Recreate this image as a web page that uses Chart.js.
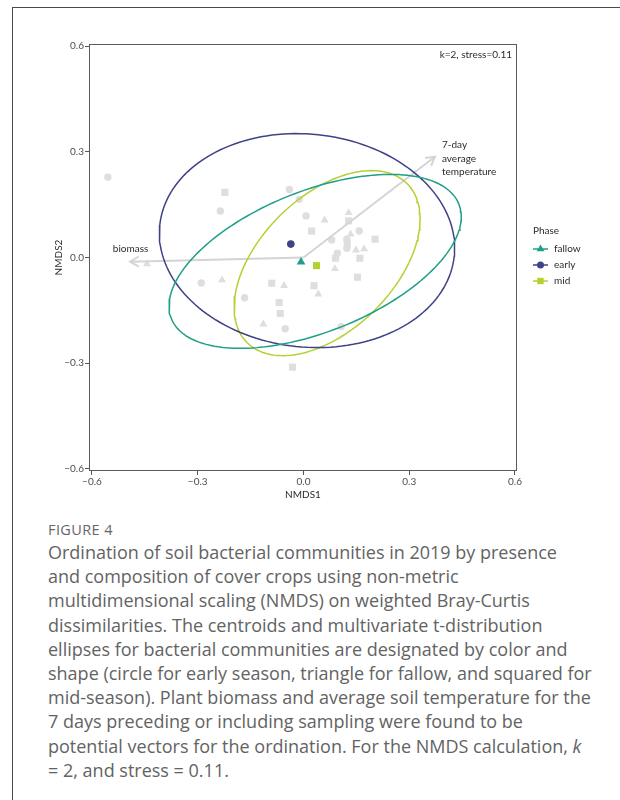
<!DOCTYPE html>
<html lang="en">
<head>
<meta charset="UTF-8">
<title>Figure 4 - NMDS ordination</title>
<script src="https://cdn.jsdelivr.net/npm/chart.js"></script>
<style>
  body { margin: 0; background: #fff; width: 620px; height: 800px; position: relative; overflow: hidden; font-family: 'Open Sans', sans-serif; }
  .card { position: absolute; left: 12px; top: 7px; width: 640px; height: 820px; border-top: 1px solid #4a4a4a; border-left: 1px solid #4a4a4a; }
  #plot { position: absolute; left: 0; top: 0; }
  .fig-label { position: absolute; left: 48px; top: 521px; font-size: 14.5px; line-height: 18px; color: #666; letter-spacing: 0.4px; }
  .caption { position: absolute; left: 48px; top: 540px; font-size: 18px; line-height: 24.2px; color: #636363; white-space: nowrap; }
</style>
</head>
<body>
<div class="card"></div>
<canvas id="plot" width="620" height="505"></canvas>
<div class="fig-label">FIGURE 4</div>
<div class="caption">
Ordination of soil bacterial communities in 2019 by presence<br>
and composition of cover crops using non-metric<br>
multidimensional scaling (NMDS) on weighted Bray-Curtis<br>
dissimilarities. The centroids and multivariate t-distribution<br>
ellipses for bacterial communities are designated by color and<br>
shape (circle for early season, triangle for fallow, and squared for<br>
mid-season). Plant biomass and average soil temperature for the<br>
7 days preceding or including sampling were found to be<br>
potential vectors for the ordination. For the NMDS calculation, <i>k</i><br>
= 2, and stress = 0.11.
</div>

<script>
// axis ticks
const tickValues = [-0.6, -0.3, 0.0, 0.3, 0.6];

// samples (grey), by shape
const circleX = [-0.555, -0.236, -0.290, -0.167, -0.052, -0.040, -0.012, 0.007, 0.080, 0.123, 0.158, 0.123, 0.096, 0.107];
const circleY = [0.228, 0.132, -0.072, -0.114, -0.202, 0.193, 0.165, 0.118, 0.050, 0.052, 0.075, 0.026, 0.012, -0.196];
const triangleX = [-0.444, -0.231, -0.055, -0.114, 0.060, 0.128, 0.134, 0.149, 0.172, 0.089, 0.042];
const triangleY = [-0.018, -0.064, -0.080, -0.189, 0.106, 0.127, 0.066, 0.021, 0.024, -0.032, -0.104];
const squareX = [-0.223, -0.090, -0.069, -0.066, 0.023, 0.128, 0.203, 0.091, 0.160, 0.153, 0.030, -0.031, 0.124];
const squareY = [0.185, -0.073, -0.128, -0.159, 0.075, 0.104, 0.052, -0.002, -0.002, -0.056, -0.080, -0.311, 0.040];

// phases: centroids and t-ellipses
const phases = ['fallow', 'early', 'mid'];
const phaseColors = ['#1f9e89', '#3f4189', '#b3d12f'];
const phaseShapes = ['triangle', 'circle', 'rect'];
const centroidX = [-0.007, -0.036, 0.037];
const centroidY = [-0.013, 0.038, -0.023];
const ellipseCX = [0.033, 0.010, 0.067];
const ellipseCY = [-0.011, 0.048, -0.016];
const ellipseA = [0.439, 0.420, 0.320];
const ellipseB = [0.200, 0.302, 0.190];
const ellipseAngle = [21.7, -6, 44.7];

// fitted vectors
const vectorNames = [['biomass'], ['7-day', 'average', 'temperature']];
const vectorX = [-0.492, 0.373];
const vectorY = [-0.012, 0.286];

const grey = '#dedede';

function fmt(v) {
    if (Math.abs(v) < 1e-9) return '0.0';
    return (v < 0 ? '\u2212' : '') + Math.abs(v).toFixed(1);
}

function ellipsePoints(i) {
    let pts = [];
    let t = ellipseAngle[i] * Math.PI / 180;
    for (let k = 0; k <= 160; k++) {
        let u = k / 160 * 2 * Math.PI;
        let ex = ellipseA[i] * Math.cos(u), ey = ellipseB[i] * Math.sin(u);
        pts.push({ x: ellipseCX[i] + ex * Math.cos(t) - ey * Math.sin(t),
                   y: ellipseCY[i] + ex * Math.sin(t) + ey * Math.cos(t) });
    }
    return pts;
}

function zip(xs, ys) { return xs.map((x, i) => ({ x: x, y: ys[i] })); }

let datasets = [];
// centroids on top
phases.forEach((p, i) => {
    datasets.push({ label: p, data: [{ x: centroidX[i], y: centroidY[i] }], pointStyle: phaseShapes[i],
        pointRadius: phaseShapes[i] === 'rect' ? 5 : (phaseShapes[i] === 'triangle' ? 5 : 3.8),
        backgroundColor: phaseColors[i], borderColor: phaseColors[i], borderWidth: 0, order: 0 });
});
phases.forEach((p, i) => {
    datasets.push({ label: p + ' ellipse', data: ellipsePoints(i), showLine: true, pointRadius: 0,
        borderColor: phaseColors[i], borderWidth: 1.5, fill: false, order: 1 });
});
vectorNames.forEach((n, i) => {
    datasets.push({ label: n.join(' '), data: [{ x: 0, y: 0 }, { x: vectorX[i], y: vectorY[i] }], showLine: true,
        pointRadius: 0, borderColor: '#d4d4d4', borderWidth: 2, order: 2, vector: i });
});
datasets.push({ label: 'circle', data: zip(circleX, circleY), pointStyle: 'circle', pointRadius: 3.7, backgroundColor: grey, borderWidth: 0, order: 3 });
datasets.push({ label: 'triangle', data: zip(triangleX, triangleY), pointStyle: 'triangle', pointRadius: 4.6, backgroundColor: grey, borderWidth: 0, order: 3 });
datasets.push({ label: 'square', data: zip(squareX, squareY), pointStyle: 'rect', pointRadius: 5, backgroundColor: grey, borderWidth: 0, order: 3 });

const txt = '#2b2b2b';
const font10 = "10px Lato, sans-serif";

const decor = {
    id: 'decor',
    beforeDatasetsDraw(chart) {
        const { ctx, chartArea: a } = chart;
        ctx.save();
        ctx.strokeStyle = '#5a5a5a';
        ctx.lineWidth = 1;
        ctx.strokeRect(a.left + 0.5, a.top + 0.5, a.right - a.left - 1, a.bottom - a.top - 1);
        ctx.restore();
    },
    afterDatasetDraw(chart, args) {
        let ds = chart.data.datasets[args.index];
        if (ds.vector === undefined) return;
        const ctx = chart.ctx;
        const pts = args.meta.data;
        const x0 = pts[0].x, y0 = pts[0].y, x1 = pts[1].x, y1 = pts[1].y;
        const ang = Math.atan2(y1 - y0, x1 - x0);
        const len = 10, spread = Math.PI / 6;
        ctx.save();
        ctx.strokeStyle = ds.borderColor;
        ctx.lineWidth = 2;
        ctx.beginPath();
        ctx.moveTo(x1 - len * Math.cos(ang - spread), y1 - len * Math.sin(ang - spread));
        ctx.lineTo(x1, y1);
        ctx.lineTo(x1 - len * Math.cos(ang + spread), y1 - len * Math.sin(ang + spread));
        ctx.stroke();
        // vector label
        ctx.fillStyle = txt;
        ctx.font = font10;
        ctx.textBaseline = 'middle';
        const lines = vectorNames[ds.vector];
        if (ds.vector === 0) {
            ctx.textAlign = 'center';
            ctx.fillText(lines[0], x1 + 0.5, y1 - 12.5);
        } else {
            ctx.textAlign = 'left';
            lines.forEach((l, k) => ctx.fillText(l, x1 + 7, y1 - 12 + k * 13.6));
        }
        ctx.restore();
    },
    afterDraw(chart) {
        const { ctx, chartArea: a } = chart;
        ctx.save();
        ctx.fillStyle = txt;
        ctx.font = font10;
        ctx.textBaseline = 'middle';
        // stress annotation
        ctx.textAlign = 'right';
        ctx.fillText('k=2, stress=0.11', a.right - 5, 55);
        // axis titles
        ctx.textAlign = 'center';
        ctx.fillText('NMDS1', (a.left + a.right) / 2, 495);
        ctx.save();
        ctx.translate(59, (a.top + a.bottom) / 2);
        ctx.rotate(-Math.PI / 2);
        ctx.fillText('NMDS2', 0, 0);
        ctx.restore();
        // legend
        ctx.textAlign = 'left';
        ctx.fillText('Phase', 533, 231);
        phases.forEach((p, i) => {
            const y = 249 + i * 16;
            ctx.strokeStyle = phaseColors[i];
            ctx.lineWidth = 1.5;
            ctx.beginPath();
            ctx.moveTo(533, y);
            ctx.lineTo(548, y);
            ctx.stroke();
            ctx.fillStyle = phaseColors[i];
            Chart.helpers.drawPoint(ctx, { pointStyle: phaseShapes[i], radius: phaseShapes[i] === 'circle' ? 3.5 : 4.5, borderWidth: 0 }, 540.5, y);
            ctx.fillStyle = txt;
            ctx.fillText(p, 554, y);
        });
        ctx.restore();
    }
};

function scaleOpts(isX) {
    return {
        type: 'linear',
        min: isX ? -0.6085 : -0.6057,
        max: 0.6057,
        afterFit: s => { if (isX) s.height = 34; else s.width = 89; },
        afterBuildTicks: s => { s.ticks = tickValues.map(v => ({ value: v })); },
        border: { display: false },
        grid: { drawOnChartArea: false, drawTicks: true, tickLength: 4, color: '#555', lineWidth: 1 },
        ticks: { padding: 1, color: '#4d4d4d', font: { size: 10, family: 'Lato, sans-serif' },
                 callback: v => fmt(v), maxRotation: 0, autoSkip: false }
    };
}

new Chart(document.getElementById('plot').getContext('2d'), {
    type: 'scatter',
    data: { datasets: datasets },
    options: {
        responsive: false,
        animation: false,
        layout: { padding: { left: 0, right: 103, top: 44, bottom: 0 } },
        plugins: { legend: { display: false }, tooltip: { enabled: false } },
        scales: { x: scaleOpts(true), y: scaleOpts(false) }
    },
    plugins: [decor]
});
</script>
</body>
</html>
